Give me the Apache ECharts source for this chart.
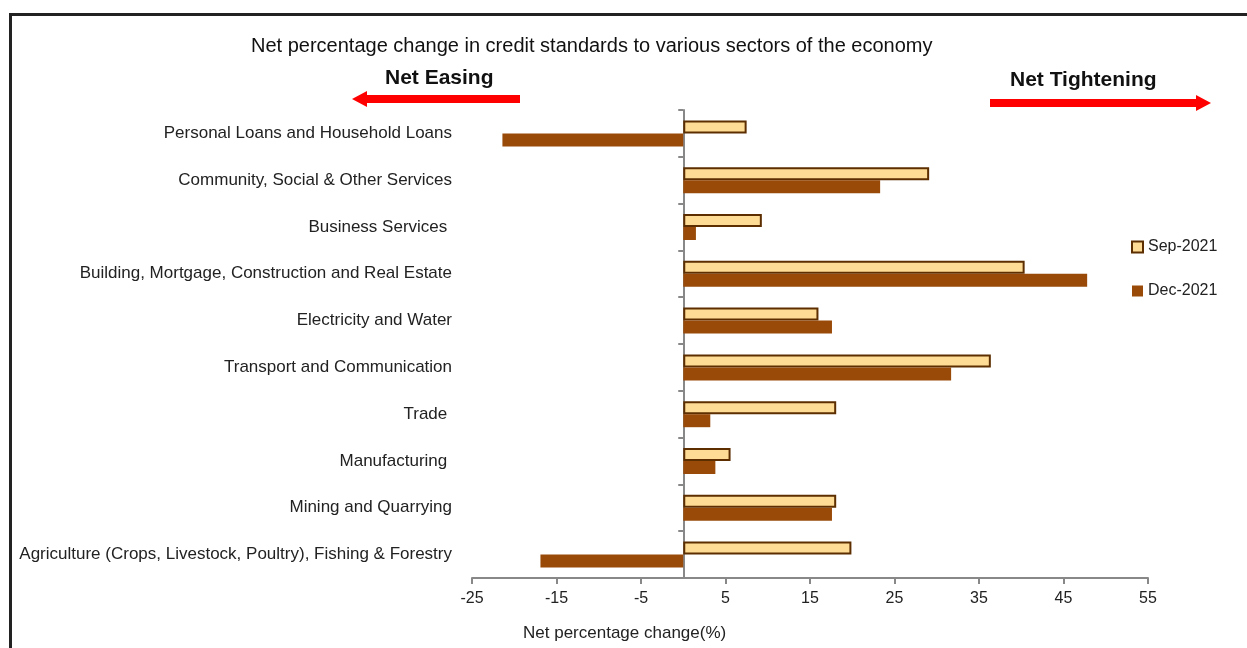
<!DOCTYPE html>
<html>
<head>
<meta charset="utf-8">
<script src="https://cdn.jsdelivr.net/npm/echarts@6/dist/echarts.min.js"></script>
<style>
  html, body { margin: 0; padding: 0; background: #fff; }
  #frame { position: absolute; left: 9px; top: 13px; width: 1238px; height: 635px;
           border-left: 3px solid #222; border-top: 3px solid #222; box-sizing: border-box; }
  #main { position: absolute; left: 0; top: 0; width: 1247px; height: 648px; }
</style>
</head>
<body>
<div id="frame"></div>
<div id="main"></div>
<script>
// sectors, top to bottom as in the picture
var sectors = [
  'Personal Loans and Household Loans',
  'Community, Social & Other Services',
  'Business Services ',
  'Building, Mortgage, Construction and Real Estate',
  'Electricity and Water',
  'Transport and Communication',
  'Trade ',
  'Manufacturing ',
  'Mining and Quarrying',
  'Agriculture (Crops, Livestock, Poultry), Fishing & Forestry'
];
var sep2021 = [7.5, 29.1, 9.3, 40.4, 16.0, 36.4, 18.1, 5.6, 18.1, 19.9];
var dec2021 = [-21.4, 23.3, 1.5, 47.8, 17.6, 31.7, 3.2, 3.8, 17.6, -16.9];
var xTicks = [-25, -15, -5, 5, 15, 25, 35, 45, 55];

var myChart = echarts.init(document.getElementById('main'));
var font = 'Arial, "Liberation Sans", sans-serif';

var option = {
  animation: false,
  textStyle: { fontFamily: font },
  title: {
    text: 'Net percentage change in credit standards to various sectors of the economy',
    left: 246,
    top: 31,
    textStyle: { fontSize: 20, fontWeight: 'normal', color: '#111', fontFamily: font }
  },
  legend: {
    data: ['Sep-2021', 'Dec-2021'],
    orient: 'vertical',
    left: 1126,
    top: 234,
    itemGap: 28,
    itemWidth: 11,
    itemHeight: 11,
    icon: 'rect',
    textStyle: { fontSize: 16, color: '#222', fontFamily: font }
  },
  grid: { left: 472, right: 99, top: 110, bottom: 70 },
  xAxis: {
    type: 'value',
    min: xTicks[0],
    max: xTicks[xTicks.length - 1],
    interval: 10,
    splitLine: { show: false },
    axisLine: { show: true, lineStyle: { color: '#888', width: 2 } },
    axisTick: { show: true, length: 6, lineStyle: { color: '#888', width: 2 } },
    axisLabel: { fontSize: 16, color: '#222', margin: 13, fontFamily: font }
  },
  yAxis: [{
    type: 'category',
    data: sectors,
    inverse: true,
    axisLine: { onZero: true, lineStyle: { color: '#888', width: 2 } },
    axisTick: { show: true, inside: false, length: 5, lineStyle: { color: '#888', width: 2 } },
    axisLabel: { show: false }
  }, {
    type: 'category',
    data: sectors,
    inverse: true,
    position: 'left',
    axisLine: { show: false, onZero: false },
    axisTick: { show: false },
    axisLabel: { fontSize: 17, color: '#222', margin: 20, fontFamily: font }
  }],
  series: [{
    name: 'Sep-2021',
    type: 'bar',
    data: sep2021,
    barWidth: 13,
    barGap: '0%',
    itemStyle: { color: '#FFDC96', borderColor: '#5C2E00', borderWidth: 2 }
  }, {
    name: 'Dec-2021',
    type: 'bar',
    data: dec2021,
    barWidth: 13,
    itemStyle: { color: '#994A08' }
  }],
  graphic: [
    { type: 'text', left: 385, top: 68,
      style: { text: 'Net Easing', fontSize: 21, fontWeight: 'bold', fill: '#111', fontFamily: font } },
    { type: 'text', left: 1010, top: 70,
      style: { text: 'Net Tightening', fontSize: 21, fontWeight: 'bold', fill: '#111', fontFamily: font } },
    { type: 'polygon',
      shape: { points: [[520, 95], [367, 95], [367, 91], [352, 99], [367, 107], [367, 103], [520, 103]] },
      style: { fill: '#ff0000' } },
    { type: 'polygon',
      shape: { points: [[990, 99], [1196, 99], [1196, 95], [1211, 103], [1196, 111], [1196, 107], [990, 107]] },
      style: { fill: '#ff0000' } },
    { type: 'text', left: 523, top: 625,
      style: { text: 'Net percentage change(%)', fontSize: 17, fill: '#222', fontFamily: font } }
  ]
};
myChart.setOption(option);
</script>
</body>
</html>
